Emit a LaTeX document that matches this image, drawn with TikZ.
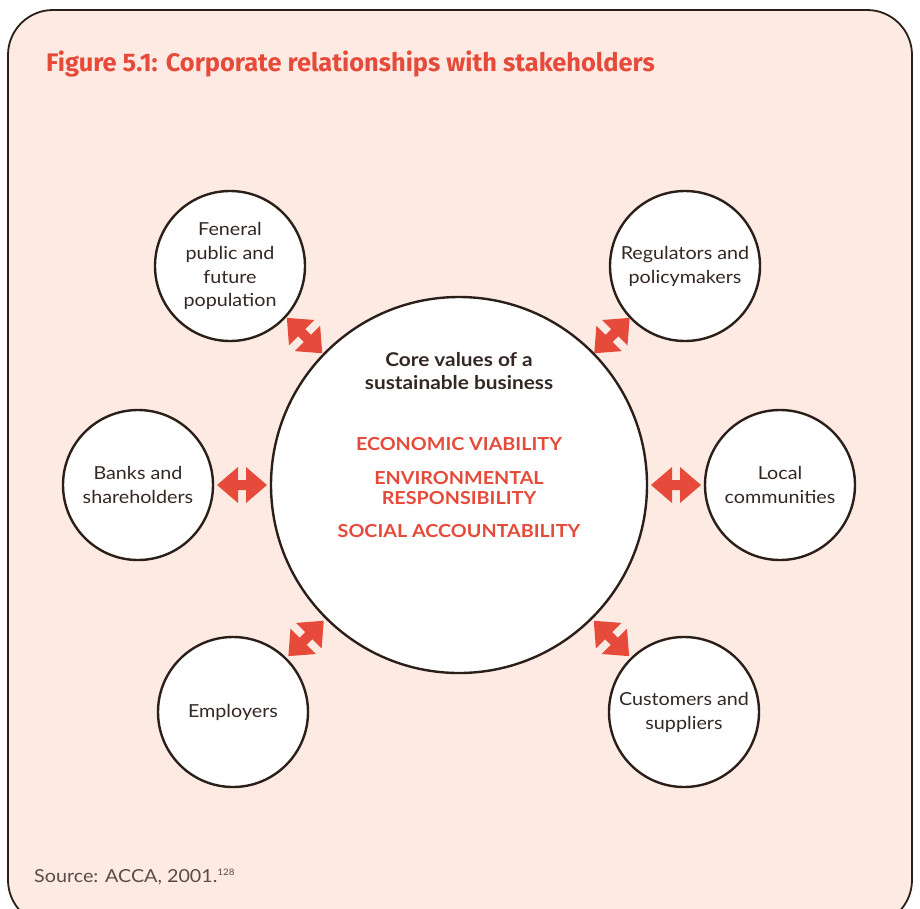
\documentclass[tikz,border=0pt]{standalone}
\usepackage{fontspec}
\setmainfont[FakeStretch=1.1]{Lato}
\newfontfamily\titlefont{Fira Sans}
\usetikzlibrary{calc}
\definecolor{bgpink}{RGB}{253,235,227}
\definecolor{frame}{RGB}{43,31,26}
\definecolor{arrowred}{RGB}{230,74,58}
\definecolor{txt}{RGB}{52,40,36}
\definecolor{srcgray}{RGB}{90,75,70}
\tikzset{
  small/.style={circle,draw=frame,line width=2.4bp,fill=white,minimum size=150bp,inner sep=0pt,
    align=center,text=txt,font=\fontsize{18}{24}\selectfont},
  big/.style={circle,draw=frame,line width=2.4bp,fill=white,minimum size=376bp,inner sep=0pt},
  redval/.style={align=center,text=arrowred,font=\bfseries\fontsize{18}{20}\selectfont},
  dbl/.pic={\fill[arrowred] (-25,0) -- (-4,18) -- (-4,5) -- (4,5) -- (4,18) -- (25,0)
      -- (4,-18) -- (4,-5) -- (-4,-5) -- (-4,-18) -- cycle;}
}
\begin{document}
\begin{tikzpicture}[x=1bp,y=-1bp]
\useasboundingbox (0,0) rectangle (920,909);
\fill[white] (0,0) rectangle (920,909);
\begin{scope}
\clip (0,0) rectangle (920,909);
\draw[frame,fill=bgpink,line width=1.8bp,rounded corners=45bp] (8,10) rectangle (912,925);
\end{scope}
\node[anchor=base west,inner sep=0pt,text=arrowred,font=\titlefont\bfseries\fontsize{25.5}{30}\selectfont] (title) at (46,71) {Figure 5.1: Corporate relationships with stakeholders};
\node[big] (core) at (459,485) {};
\node[small] (fen) at (230,266) {Feneral\\public and\\future\\population};
\node[small] (reg) at (685,266) {Regulators and\\policymakers};
\node[small] (bank) at (138,485) {Banks and\\shareholders};
\node[small] (loc) at (780,485) {Local\\communities};
\node[small] (emp) at (233,712) {Employers};
\node[small] (cust) at (684,712) {Customers and\\suppliers};
\node[align=center,text=txt,font=\bfseries\fontsize{19}{24}\selectfont] (core title) at (459,371) {Core values of a\\sustainable business};
\node[redval] (v1) at (459,444) {ECONOMIC VIABILITY};
\node[redval] (v2) at (459,488) {ENVIRONMENTAL\\RESPONSIBILITY};
\node[redval] (v3) at (459,531) {SOCIAL ACCOUNTABILITY};
\pic at ($(core.west)!0.5!(bank.east)$) {dbl};
\pic at ($(core.east)!0.5!(loc.west)$) {dbl};
\pic[rotate=-45] at ($(core.135)!0.5!(fen.-45)$) {dbl};
\pic[rotate=45] at ($(core.45)!0.5!(reg.-135)$) {dbl};
\pic[rotate=45] at ($(core.-135)!0.5!(emp.45)$) {dbl};
\pic[rotate=-45] at ($(core.-45)!0.5!(cust.135)$) {dbl};
\node[anchor=base west,inner sep=0pt,text=srcgray,font=\fontsize{18}{20}\selectfont] (src) at (34,882) {Source: ACCA, 2001.\textsuperscript{\fontsize{9}{10}\selectfont 128}};
\end{tikzpicture}
\end{document}
